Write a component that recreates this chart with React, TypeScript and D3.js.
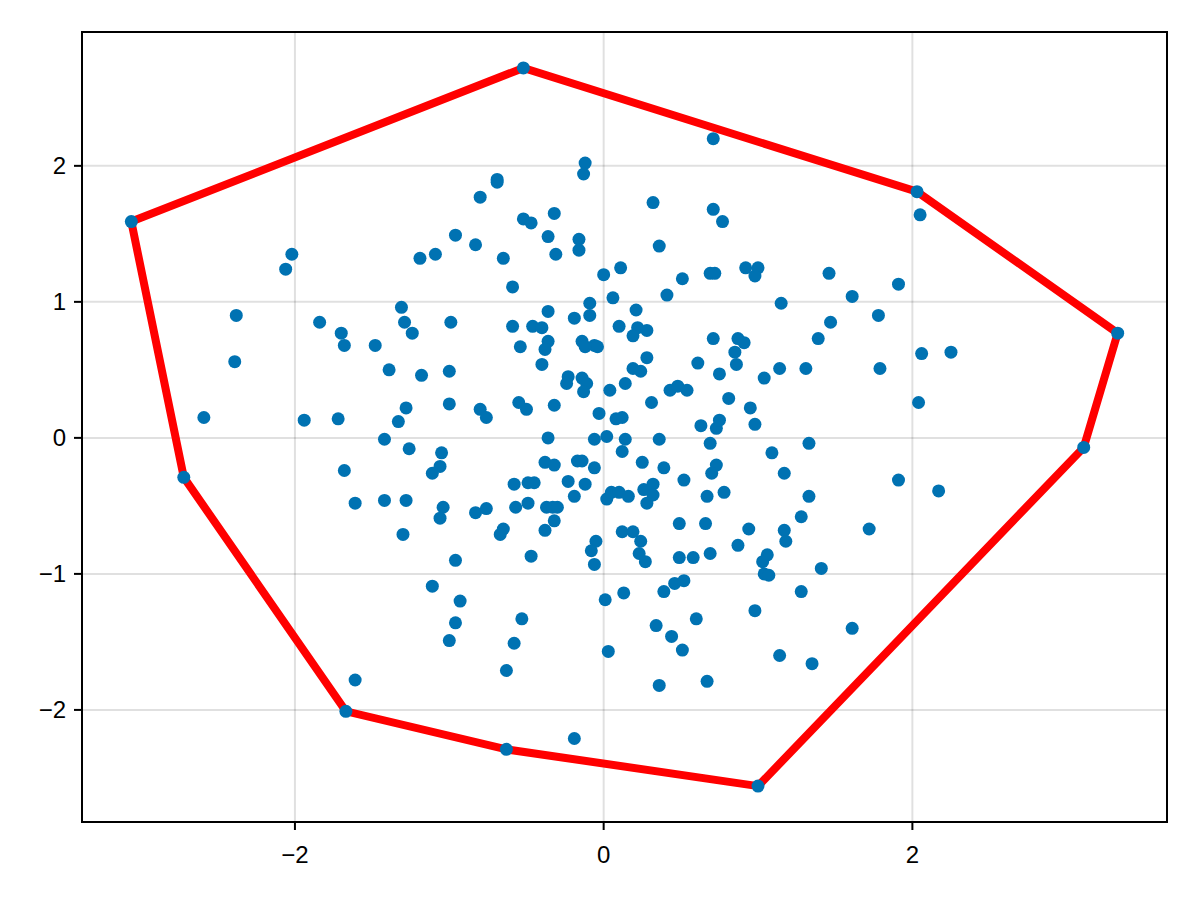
import React from "react";
import * as d3 from "d3";

// point cloud (data units)
const xValues = [
  -0.52, 2.03, 3.33, 3.11, 1.0, -0.63, -1.67, -2.72, -3.06, 0.71,
  -0.12, -0.13, -0.69, -0.69, -0.8, 2.05, 0.32, 0.71, 0.77, -0.52,
  -0.47, -0.32, -0.36, -0.16, -0.16, -0.31, -0.96, -0.83, -1.19, -1.09,
  -0.65, -0.59, 0.0, 0.11, 0.06, -0.09, -0.09, 0.21, -0.36, -0.19,
  -1.31, -2.02, -2.06, -2.38, -1.84, 0.36, 0.92, 1.0, 0.98, 0.69,
  0.72, 0.51, 0.41, 1.15, 1.46, 1.61, 1.91, 1.47, 1.78, -1.29,
  -0.99, -1.24, -0.59, -0.46, -0.4, 0.1, 0.22, 0.19, 0.28, -1.48,
  -1.7, -1.68, -0.54, -0.36, -0.38, -0.14, -0.12, -0.06, -0.04, 0.28,
  -0.4, -1.39, -1.18, -1.0, -0.23, -0.24, -0.14, -0.11, -0.13, 0.19,
  0.24, 0.14, 0.04, 0.31, -1.28, -1.33, -1.0, -0.8, -0.76, -0.55,
  -0.5, -0.32, -0.03, 0.08, 0.12, -1.42, -1.26, -1.05, -1.06, -1.11,
  -0.36, -0.06, 0.02, 0.14, 0.12, 0.25, -0.38, -0.32, -0.17, -0.14,
  -0.06, -0.58, -0.49, -0.45, -0.23, -0.12, -0.19, 0.02, 0.05, 0.1,
  0.16, 0.26, 0.32, 0.32, 0.28, -1.42, -1.28, -1.04, -1.06, -0.83,
  -0.76, -0.57, -0.49, -0.37, -0.33, -0.3, -0.32, -0.38, -0.65, -0.67,
  -1.3, 0.12, 0.19, -0.05, 0.24, 0.71, 0.87, 0.91, 0.85, 0.86,
  1.39, 0.61, 0.75, 1.04, 1.14, 1.31, 1.79, 0.43, 0.48, 0.54,
  0.81, 0.95, 0.98, 0.63, 0.73, 0.75, 0.36, 0.69, 1.09, 1.33,
  0.39, 0.73, 0.7, 1.17, 1.91, 0.52, 0.67, 0.78, 1.33, 1.28,
  0.49, 0.66, 0.94, 1.17, 1.72, 2.06, 2.25, 2.04, 2.17, -2.39,
  -2.59, -1.94, -1.72, -1.68, -1.61, -1.61, -0.96, -0.47, -0.08, -0.06,
  0.23, 0.27, -1.11, -0.93, -0.96, -1.0, -0.53, -0.58, -0.63, 0.01,
  0.13, 0.03, -0.19, 0.49, 0.58, 0.69, 0.87, 1.18, 1.06, 1.03,
  1.04, 1.07, 1.41, 0.39, 0.46, 0.52, 1.28, 0.98, 0.6, 0.34,
  0.44, 0.51, 1.61, 1.14, 1.35, 0.36, 0.67,
];

const yValues = [
  2.72, 1.81, 0.77, -0.07, -2.56, -2.29, -2.01, -0.29, 1.59, 2.2,
  2.02, 1.94, 1.9, 1.88, 1.77, 1.64, 1.73, 1.68, 1.59, 1.61,
  1.58, 1.65, 1.48, 1.46, 1.38, 1.35, 1.49, 1.42, 1.32, 1.35,
  1.32, 1.11, 1.2, 1.25, 1.03, 0.99, 0.9, 0.94, 0.93, 0.88,
  0.96, 1.35, 1.24, 0.9, 0.85, 1.41, 1.25, 1.25, 1.19, 1.21,
  1.21, 1.17, 1.05, 0.99, 1.21, 1.04, 1.13, 0.85, 0.9, 0.85,
  0.85, 0.77, 0.82, 0.82, 0.81, 0.82, 0.81, 0.75, 0.79, 0.68,
  0.77, 0.68, 0.67, 0.71, 0.65, 0.71, 0.67, 0.68, 0.67, 0.59,
  0.54, 0.5, 0.46, 0.49, 0.45, 0.4, 0.44, 0.4, 0.34, 0.51,
  0.49, 0.4, 0.35, 0.26, 0.22, 0.12, 0.25, 0.21, 0.15, 0.26,
  0.21, 0.24, 0.18, 0.14, 0.15, -0.01, -0.08, -0.11, -0.21, -0.26,
  0.0, -0.01, 0.01, -0.01, -0.1, -0.18, -0.18, -0.2, -0.17, -0.17,
  -0.22, -0.34, -0.33, -0.33, -0.32, -0.34, -0.43, -0.45, -0.4, -0.4,
  -0.43, -0.38, -0.34, -0.42, -0.48, -0.46, -0.46, -0.51, -0.59, -0.55,
  -0.52, -0.51, -0.48, -0.51, -0.51, -0.51, -0.61, -0.68, -0.67, -0.71,
  -0.71, -0.69, -0.69, -0.76, -0.76, 0.73, 0.73, 0.7, 0.63, 0.54,
  0.73, 0.55, 0.47, 0.44, 0.51, 0.51, 0.51, 0.35, 0.38, 0.35,
  0.29, 0.22, 0.1, 0.09, 0.07, 0.13, -0.01, -0.04, -0.11, -0.04,
  -0.22, -0.2, -0.26, -0.26, -0.31, -0.31, -0.43, -0.4, -0.43, -0.58,
  -0.63, -0.63, -0.67, -0.68, -0.67, 0.62, 0.63, 0.26, -0.39, 0.56,
  0.15, 0.13, 0.14, -0.24, -0.48, -1.78, -0.9, -0.87, -0.83, -0.93,
  -0.85, -0.91, -1.09, -1.2, -1.36, -1.49, -1.33, -1.51, -1.71, -1.19,
  -1.14, -1.57, -2.21, -0.88, -0.88, -0.85, -0.79, -0.76, -0.86, -0.91,
  -1.0, -1.01, -0.96, -1.13, -1.07, -1.05, -1.13, -1.27, -1.33, -1.38,
  -1.46, -1.56, -1.4, -1.6, -1.66, -1.82, -1.79,
];

const xTicks = [-2, 0, 2];
const yTicks = [-2, -1, 0, 1, 2];

const width = 1200;
const height = 900;
const margin = { top: 32, right: 33, bottom: 78, left: 82 };

// makie style autolimits: data extent plus 5% on each side
const padded = (vals: number[]) => {
  const [lo, hi] = d3.extent(vals) as [number, number];
  const p = (hi - lo) * 0.05;
  return [lo - p, hi + p];
};

const fmt = (v: number) => (v < 0 ? "\u2212" + Math.abs(v) : String(v));

export default function App() {
  const x = d3
    .scaleLinear()
    .domain(padded(xValues))
    .range([margin.left, width - margin.right]);
  const y = d3
    .scaleLinear()
    .domain(padded(yValues))
    .range([height - margin.bottom, margin.top]);

  const points: [number, number][] = xValues.map((v, i) => [v, yValues[i]]);
  const hull = d3.polygonHull(points) || [];
  const hullPath = d3
    .line<[number, number]>()
    .x((d) => x(d[0]))
    .y((d) => y(d[1]))
    .curve(d3.curveLinearClosed)(hull);

  const left = margin.left;
  const right = width - margin.right;
  const top = margin.top;
  const bottom = height - margin.bottom;

  return (
    <svg
      width={width}
      height={height}
      style={{ position: "absolute", left: 0, top: 0, background: "#fff" }}
      fontFamily="'Liberation Sans', Arial, sans-serif"
    >
      <rect width={width} height={height} fill="#fff" />
      {/* grid */}
      <g stroke="rgba(0,0,0,0.12)" strokeWidth={2}>
        {xTicks.map((t) => (
          <line key={"gx" + t} x1={x(t)} x2={x(t)} y1={top} y2={bottom} />
        ))}
        {yTicks.map((t) => (
          <line key={"gy" + t} x1={left} x2={right} y1={y(t)} y2={y(t)} />
        ))}
      </g>

      {/* convex hull */}
      <path
        d={hullPath || ""}
        fill="none"
        stroke="#ff0000"
        strokeWidth={8}
        strokeLinejoin="miter"
      />

      {/* scatter */}
      <g fill="#0072b2">
        {points.map((d, i) => (
          <circle key={i} cx={x(d[0])} cy={y(d[1])} r={6.5} />
        ))}
      </g>

      {/* frame */}
      <rect
        x={left}
        y={top}
        width={right - left}
        height={bottom - top}
        fill="none"
        stroke="#000"
        strokeWidth={2}
      />

      {/* ticks and labels */}
      <g stroke="#000" strokeWidth={2}>
        {xTicks.map((t) => (
          <line key={"tx" + t} x1={x(t)} x2={x(t)} y1={bottom} y2={bottom + 8} />
        ))}
        {yTicks.map((t) => (
          <line key={"ty" + t} x1={left - 8} x2={left} y1={y(t)} y2={y(t)} />
        ))}
      </g>
      <g fontSize={24} fill="#000">
        {xTicks.map((t) => (
          <text key={"lx" + t} x={x(t)} y={bottom + 41} textAnchor="middle">
            {fmt(t)}
          </text>
        ))}
        {yTicks.map((t) => (
          <text key={"ly" + t} x={left - 16} y={y(t) + 8.5} textAnchor="end">
            {fmt(t)}
          </text>
        ))}
      </g>
    </svg>
  );
}
